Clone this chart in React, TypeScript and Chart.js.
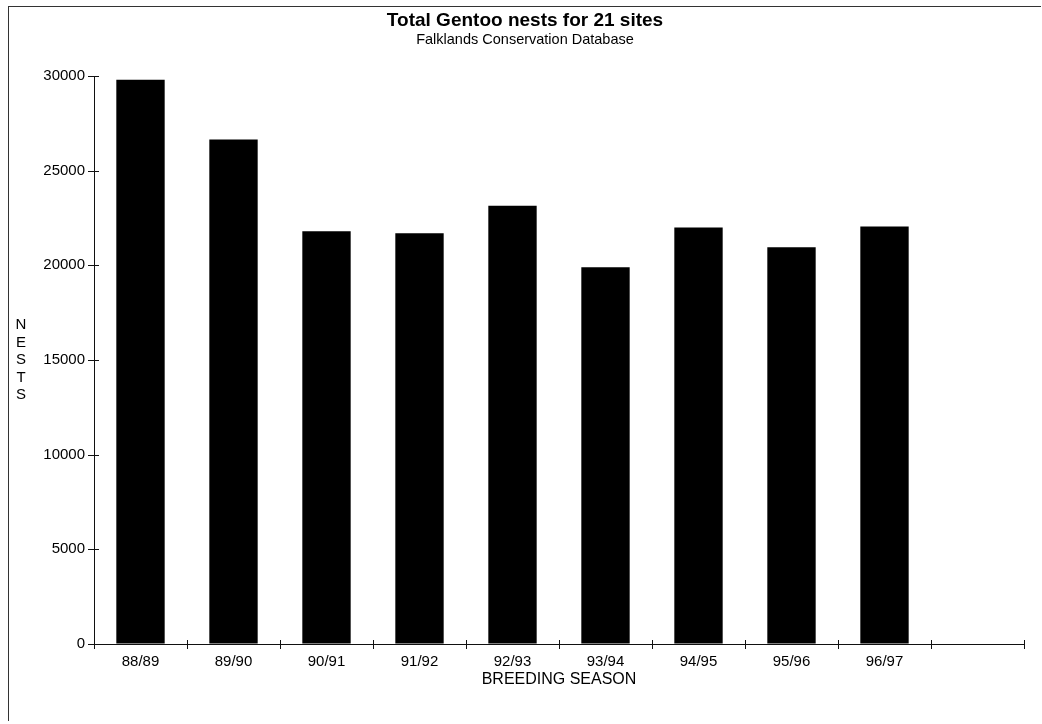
import React, { useEffect, useRef } from 'react';
import { Chart, registerables } from 'chart.js';

Chart.register(...registerables);

const seasons = ['88/89', '89/90', '90/91', '91/92', '92/93', '93/94', '94/95', '95/96', '96/97', ''];
const nests: (number | null)[] = [29800, 26650, 21800, 21700, 23150, 19900, 22000, 20950, 22050, null];
const yMin = 0;
const yMax = 30000;
const yStep = 5000;
const yAxisLetters = ['N', 'E', 'S', 'T', 'S'];
const titleText = 'Total Gentoo nests for 21 sites';
const subtitleText = 'Falklands Conservation Database';
const xTitleText = 'BREEDING SEASON';

const FONT = '"Liberation Sans", Arial, Helvetica, sans-serif';

const crossTicks = {
  id: 'crossTicks',
  afterDraw(chart: any) {
    const { ctx, chartArea } = chart;
    const x = chart.scales.x;
    const y = chart.scales.y;
    ctx.save();
    ctx.strokeStyle = '#111';
    ctx.lineWidth = 1;
    ctx.beginPath();
    y.ticks.forEach((_t: any, i: number) => {
      const py = Math.round(y.getPixelForTick(i)) + 0.5;
      ctx.moveTo(chartArea.left - 6, py);
      ctx.lineTo(chartArea.left + 5, py);
    });
    for (let i = 0; i <= seasons.length; i++) {
      const px = Math.round(x.getPixelForValue(i - 0.5)) + 0.5;
      ctx.moveTo(px, chartArea.bottom - 4);
      ctx.lineTo(px, chartArea.bottom + 5);
    }
    ctx.stroke();
    ctx.fillStyle = '#000';
    ctx.font = '15px ' + FONT;
    ctx.textAlign = 'center';
    ctx.textBaseline = 'middle';
    const cy = (chartArea.top + chartArea.bottom) / 2;
    yAxisLetters.forEach((l, i) => ctx.fillText(l, 21, cy + (i - 2) * 17.5));
    ctx.restore();
  },
};

export default function App() {
  const ref = useRef<HTMLCanvasElement | null>(null);
  useEffect(() => {
    document.body.style.margin = '0';
    const canvas = ref.current;
    if (!canvas) return;
    const chart = new Chart(canvas, {
      type: 'bar',
      data: {
        labels: seasons,
        datasets: [
          {
            data: nests,
            backgroundColor: '#000',
            borderWidth: 0,
            barPercentage: 0.52,
            categoryPercentage: 1,
          },
        ],
      },
      options: {
        responsive: false,
        animation: false,
        layout: { padding: { left: 8, right: 0, top: 0, bottom: 0 } },
        plugins: {
          legend: { display: false },
          tooltip: { enabled: false },
          title: {
            display: true,
            text: titleText,
            color: '#000',
            font: { family: FONT, size: 19, weight: 'bold', lineHeight: 1.1 },
            padding: { top: 10, bottom: 0 },
          },
          subtitle: {
            display: true,
            text: subtitleText,
            color: '#000',
            font: { family: FONT, size: 14.5, lineHeight: 1.2 },
            padding: { top: 0, bottom: 27.7 },
          },
        },
        scales: {
          x: {
            afterFit: (s: any) => {
              s.height = 80;
            },
            grid: { display: true, drawOnChartArea: false, drawTicks: false, offset: true },
            border: { display: true, color: '#111', width: 1 },
            ticks: {
              color: '#000',
              font: { family: FONT, size: 15 },
              padding: 9,
              maxRotation: 0,
              autoSkip: false,
            },
            title: {
              display: true,
              text: xTitleText,
              color: '#000',
              font: { family: FONT, size: 16 },
              padding: { top: 0, bottom: 34.4 },
            },
          },
          y: {
            min: yMin,
            max: yMax,
            afterFit: (s: any) => {
              s.width = 86;
            },
            grid: { display: true, drawOnChartArea: false, drawTicks: false },
            border: { display: true, color: '#111', width: 1 },
            ticks: {
              stepSize: yStep,
              color: '#000',
              font: { family: FONT, size: 15 },
              padding: 9,
              callback: (v: any) => String(v),
            },
          },
          yRight: {
            position: 'right',
            display: true,
            min: yMin,
            max: yMax,
            afterFit: (s: any) => {
              s.width = 18;
            },
            grid: { display: false, drawOnChartArea: false, drawTicks: false },
            border: { display: false },
            ticks: { display: false },
          },
        },
      },
      plugins: [crossTicks],
    });
    return () => chart.destroy();
  }, []);

  return (
    <div style={{ position: 'absolute', left: 0, top: 0, width: 1042, height: 724, background: '#fff' }}>
      <canvas ref={ref} width={1042} height={724} style={{ display: 'block' }} />
      <div
        style={{
          position: 'absolute',
          left: 8,
          top: 6,
          width: 1032,
          height: 714,
          borderTop: '1px solid #333',
          borderLeft: '1px solid #333',
          pointerEvents: 'none',
        }}
      />
    </div>
  );
}
